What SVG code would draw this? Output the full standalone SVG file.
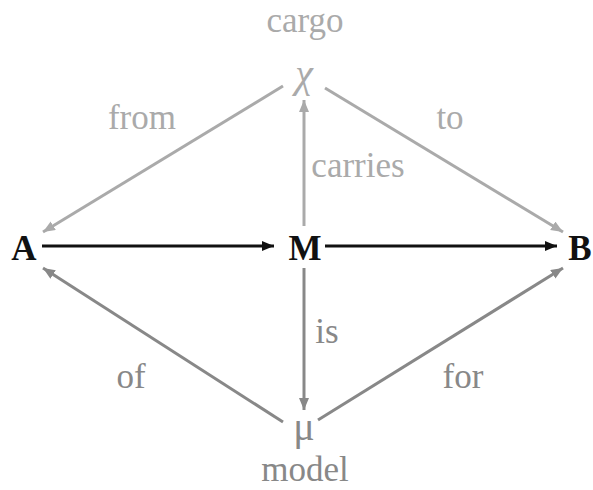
<svg xmlns="http://www.w3.org/2000/svg" width="593" height="490" viewBox="0 0 593 490">
<style>
text{font-family:"Liberation Serif","Times New Roman",serif;font-size:35px;text-anchor:middle}
.node{font-weight:bold;fill:#111}
.lt{fill:#aaaaaa}
.dk{fill:#888888}
.greek{font-size:40px}
.it{font-style:italic}
line{stroke-width:3;fill:none}
.cb{stroke:#111}
.cl{stroke:#aaaaaa}
.cd{stroke:#888888}
</style>
<defs>
<marker id="hb" markerUnits="userSpaceOnUse" markerWidth="14" markerHeight="12" refX="12" refY="5" orient="auto"><path d="M0,0 L12,5 L0,10 Z" fill="#111"/></marker>
<marker id="hl" markerUnits="userSpaceOnUse" markerWidth="14" markerHeight="12" refX="12" refY="5" orient="auto"><path d="M0,0 L12,5 L0,10 Z" fill="#aaaaaa"/></marker>
<marker id="hd" markerUnits="userSpaceOnUse" markerWidth="14" markerHeight="12" refX="12" refY="5" orient="auto"><path d="M0,0 L12,5 L0,10 Z" fill="#888888"/></marker>
</defs>
<g id="connectors">
<line class="cb" x1="42" y1="246" x2="274" y2="246" marker-end="url(#hb)"/>
<line class="cb" x1="325" y1="246" x2="557" y2="246" marker-end="url(#hb)"/>
<line class="cl" x1="304" y1="226" x2="304" y2="100" marker-end="url(#hl)"/>
<line class="cd" x1="304" y1="268" x2="304" y2="410" marker-end="url(#hd)"/>
<line class="cl" x1="283" y1="86" x2="43" y2="232" marker-end="url(#hl)"/>
<line class="cl" x1="325" y1="88" x2="563" y2="232" marker-end="url(#hl)"/>
<line class="cd" x1="283" y1="422" x2="43" y2="268" marker-end="url(#hd)"/>
<line class="cd" x1="318" y1="420" x2="563" y2="268" marker-end="url(#hd)"/>
<text class="lt" x="142" y="129">from</text>
<text class="lt" x="450" y="129">to</text>
<text class="lt" x="358" y="177">carries</text>
<text class="dk" x="327" y="343">is</text>
<text class="dk" x="131" y="388">of</text>
<text class="dk" x="463" y="388">for</text>
</g>
<g id="A"><text class="node" x="24" y="260">A</text></g>
<g id="M"><text class="node" x="305" y="260">M</text></g>
<g id="B"><text class="node" x="580" y="260">B</text></g>
<g id="chi"><text class="lt" x="305" y="32">cargo</text><text class="lt greek it" x="304" y="87">χ</text></g>
<g id="mu"><text class="dk greek" x="304" y="440">μ</text><text class="dk" x="305" y="481">model</text></g>
</svg>
